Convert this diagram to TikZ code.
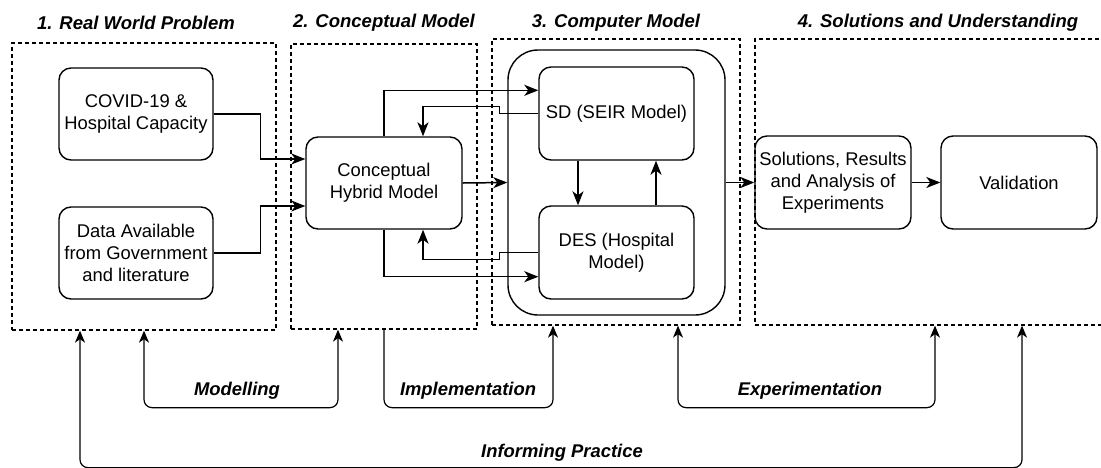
\documentclass[tikz,border=0pt]{standalone}
\usepackage{fontspec}
\setmainfont{Liberation Sans}
\usetikzlibrary{arrows.meta,calc}

\tikzset{
  box/.style={draw, line width=1.4pt, rounded corners=12pt, align=center,
    inner sep=0pt, minimum width=155pt, minimum height=92pt,
    font=\fontsize{18.4}{21.8}\selectfont},
  bigbox/.style={draw, line width=1.4pt, rounded corners=30pt, inner sep=0pt},
  frame/.style={draw, line width=1.3pt, dash pattern=on 4pt off 3pt, inner sep=0pt},
  heading/.style={font=\fontsize{18.5}{22}\selectfont\bfseries\itshape, inner sep=0pt},
  steplabel/.style={font=\fontsize{18.4}{22}\selectfont\bfseries\itshape, inner sep=0pt},
  arr/.style={line width=1.5pt, -{Stealth[length=14pt, width=11pt, inset=4pt]}},
  loop/.style={line width=1.2pt, rounded corners=8pt},
  looptip/.tip={Stealth[length=12pt, width=10pt, inset=3.5pt]},
}

\begin{document}
\begin{tikzpicture}[x=1pt, y=-1pt]
\useasboundingbox (0,0) rectangle (1101,467);

% stage frames
\node[frame, minimum width=264pt, minimum height=287pt] (f1) at (144,186.5) {};
\node[frame, minimum width=186pt, minimum height=285pt] (f2) at (384,186.5) {};
\node[frame, minimum width=248pt, minimum height=286pt] (f3) at (616,182) {};
\node[frame, minimum width=351pt, minimum height=286pt] (f4) at (930.5,182) {};

% stage headings
\node[heading] at (136,23) {1. Real World Problem};
\node[heading] at (384,23) {2. Conceptual Model};
\node[heading] at (616,23) {3. Computer Model};
\node[heading] at (938,23) {4. Solutions and Understanding};

% real world problem
\node[box, minimum width=154pt] (covid) at (136,114) {COVID-19 \&\\Hospital Capacity};
\node[box, minimum width=154pt] (data) at (136,253) {Data Available\\from Government\\and literature};

% conceptual model
\node[box, minimum width=156pt] (chm) at (384,183) {Conceptual\\Hybrid Model};

% computer model
\node[bigbox, minimum width=217pt, minimum height=265pt] (comp) at (616.5,182.5) {};
\node[box, minimum height=93pt] (sd) at (616.5,113.5) {SD (SEIR Model)};
\node[box, minimum height=93pt] (des) at (616.5,252.5) {DES (Hospital\\Model)};

% solutions and understanding
\node[box, minimum width=156pt, minimum height=93pt] (sol) at (833,182.5) {Solutions, Results\\and Analysis of\\Experiments};
\node[box, minimum width=156pt, minimum height=93pt] (val) at (1019,182.5) {Validation};

% flows into the conceptual model
\draw[arr] (covid.east) -- ++(47pt,0pt) |- ([yshift=24pt]chm.west);
\draw[arr] (data.east) -- ++(47pt,0pt) |- ([yshift=-23pt]chm.west);

% conceptual model to and from the computer model
\draw[arr] (chm.east) -- (comp.west);
\draw[arr] (chm.north) |- ([yshift=-24pt]sd.north west);
\draw[arr] (sd.west) -- ++(-39pt,0pt) -- ++(0pt,7pt) -| ([xshift=39pt]chm.north);
\draw[arr] (des.west) -- ++(-39pt,0pt) -- ++(0pt,-7pt) -| ([xshift=39pt]chm.south);
\draw[arr] (chm.south) |- ([yshift=23pt]des.south west);

% coupling between SD and DES
\draw[arr] ([xshift=-38.5pt]sd.south) -- ([xshift=-38.5pt]des.north);
\draw[arr] ([xshift=39.5pt]des.north) -- ([xshift=39.5pt]sd.south);

% results
\draw[arr] (comp.east) -- (sol.west);
\draw[arr] (sol.east) -- (val.west);

% cycle of activities under the frames
\draw[loop, looptip-looptip] (f1.south) -- ++(0pt,-77pt) -| ([xshift=-46pt]f2.south);
\draw[loop, -looptip] (f2.south) -- ++(0pt,-78pt) -| ([xshift=-63pt]f3.south);
\draw[loop, looptip-looptip] ([xshift=62pt]f3.south) -- ++(0pt,-82pt) -| ([xshift=4.5pt]f4.south);
\draw[loop, looptip-looptip] ([xshift=-64pt]f1.south) -- ++(0pt,-137pt) -| ([xshift=91.5pt]f4.south);

\node[steplabel] at (237,391) {Modelling};
\node[steplabel] at (468,391) {Implementation};
\node[steplabel] at (810,391) {Experimentation};
\node[steplabel] at (562,453) {Informing Practice};
\end{tikzpicture}
\end{document}
